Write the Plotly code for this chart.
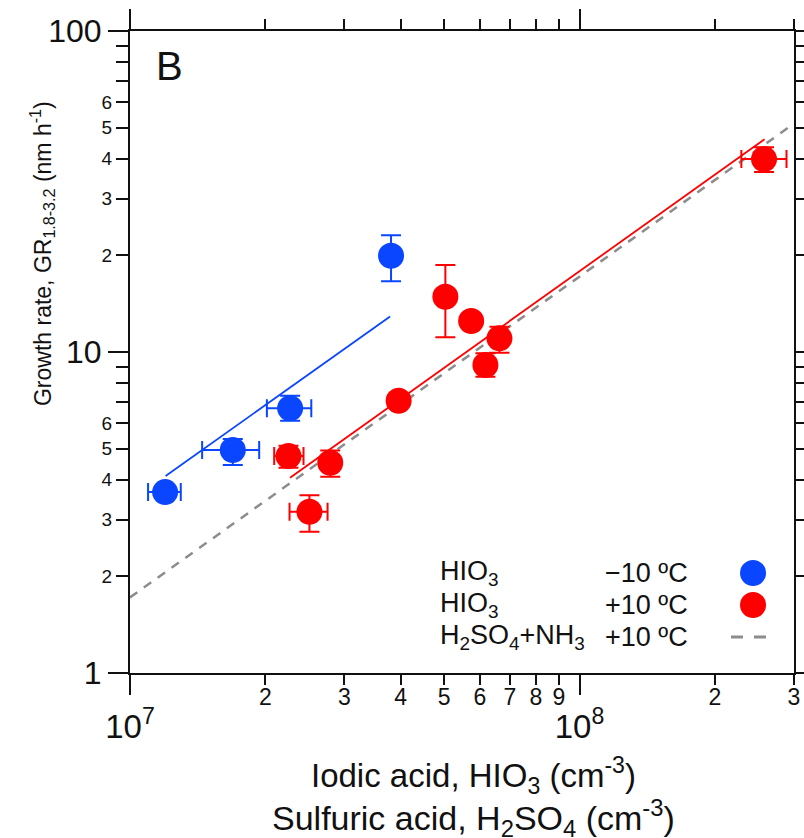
import numpy as np
import plotly.graph_objects as go

# ---------------- data ----------------
blue_x = [1.197e7, 1.693e7, 2.271e7, 3.808e7]
blue_y = [3.66, 4.95, 6.68, 19.95]
blue_x_plus = [0.10e7, 0.245e7, 0.26e7, 0.0]
blue_x_minus = [0.10e7, 0.246e7, 0.255e7, 0.0]
blue_y_plus = [0.0, 0.41, 0.63, 3.15]
blue_y_minus = [0.0, 0.50, 0.57, 3.35]

red_x = [2.252e7, 2.789e7, 2.507e7, 3.959e7, 5.03e7, 5.74e7, 6.635e7, 6.175e7, 2.573e8]
red_y = [4.74, 4.52, 3.18, 7.05, 14.87, 12.49, 11.03, 9.11, 39.9]
red_x_plus = [0.18e7, 0.12e7, 0.244e7, 0.0, 0.0, 0.0, 0.0, 0.0, 0.314e8]
red_x_minus = [0.159e7, 0.11e7, 0.243e7, 0.0, 0.0, 0.0, 0.0, 0.0, 0.282e8]
red_y_plus = [0.36, 0.41, 0.40, 0.0, 3.79, 0.0, 0.96, 0.80, 3.5]
red_y_minus = [0.38, 0.43, 0.425, 0.0, 3.76, 0.0, 1.08, 0.73, 3.5]

blue_fit_x = [1.2e7, 3.79e7]
blue_fit_y = [4.11, 12.9]
red_fit_x = [2.27e7, 2.58e8]
red_fit_y = [4.06, 46.0]
h2so4_fit_x = [1.0e7, 3.0e8]
h2so4_fit_y = [1.72, 51.5]

x_minor_vals = [2e7, 3e7, 4e7, 5e7, 6e7, 7e7, 8e7, 9e7, 2e8, 3e8]
x_minor_text = ["2", "3", "4", "5", "6", "7", "8", "9", "2", "3"]
x_major_vals = [1e7, 1e8]
x_major_text = ["10<sup>7</sup>", "10<sup>8</sup>"]
y_minor_vals = [2, 3, 4, 5, 6, 20, 30, 40, 50, 60]
y_minor_text = ["2", "3", "4", "5", "6", "2", "3", "4", "5", "6"]
y_unlabeled_vals = [7, 8, 9, 70, 80, 90]
y_major_vals = [1, 10, 100]
y_major_text = ["1", "10", "100"]

legend_names = ["HIO<sub>3</sub>", "HIO<sub>3</sub>", "H<sub>2</sub>SO<sub>4</sub>+NH<sub>3</sub>"]
legend_temps = ["\u221210 \u00baC", "+10 \u00baC", "+10 \u00baC"]

BLUE = "#0a46ff"
RED = "#ff0000"
GRAY = "#8c8c8c"
FONT = "Liberation Sans, Arial, sans-serif"
NARROW = "Liberation Sans Narrow, Arial Narrow, Liberation Sans, sans-serif"

fig = go.Figure()

fig.add_trace(go.Scatter(x=h2so4_fit_x, y=h2so4_fit_y, mode="lines",
                         line=dict(color=GRAY, width=2.5, dash="9px,8px"),
                         showlegend=False, hoverinfo="skip"))
fig.add_trace(go.Scatter(x=blue_fit_x, y=blue_fit_y, mode="lines",
                         line=dict(color=BLUE, width=1.8), showlegend=False, hoverinfo="skip"))
fig.add_trace(go.Scatter(x=red_fit_x, y=red_fit_y, mode="lines",
                         line=dict(color=RED, width=1.8), showlegend=False, hoverinfo="skip"))

fig.add_trace(go.Scatter(
    x=blue_x, y=blue_y, mode="markers",
    marker=dict(color=BLUE, size=26),
    error_x=dict(type="data", array=blue_x_plus, arrayminus=blue_x_minus,
                 color=BLUE, thickness=2, width=9),
    error_y=dict(type="data", array=blue_y_plus, arrayminus=blue_y_minus,
                 color=BLUE, thickness=2, width=10),
    showlegend=False))
fig.add_trace(go.Scatter(
    x=red_x, y=red_y, mode="markers",
    marker=dict(color=RED, size=26),
    error_x=dict(type="data", array=red_x_plus, arrayminus=red_x_minus,
                 color=RED, thickness=2, width=9),
    error_y=dict(type="data", array=red_y_plus, arrayminus=red_y_minus,
                 color=RED, thickness=2, width=10),
    showlegend=False))

# placeholder trace so the overlay axes (long major ticks) are drawn
fig.add_trace(go.Scatter(x=[], y=[], xaxis="x2", yaxis="y2", mode="markers",
                         showlegend=False, hoverinfo="skip"))

xr = [7, np.log10(3e8)]
common_ax = dict(showgrid=False, zeroline=False, ticks="outside", tickwidth=2,
                 tickcolor="#111", linecolor="#111", linewidth=2, showline=True,
                 mirror="ticks", automargin=False)

fig.update_layout(
    width=804, height=838, autosize=False,
    margin=dict(l=130, r=10, t=31, b=165),
    paper_bgcolor="white", plot_bgcolor="white",
    font=dict(family=FONT, color="#111"),
    xaxis=dict(type="log", range=xr, tickmode="array", tickvals=x_minor_vals,
               ticktext=x_minor_text, ticklen=10, tickfont=dict(size=23),
               ticklabelstandoff=-8, **common_ax),
    xaxis2=dict(type="log", range=xr, overlaying="x", side="bottom", tickmode="array",
                tickvals=x_major_vals, ticktext=x_major_text, ticklen=20,
                tickfont=dict(size=33), ticklabelstandoff=3, **common_ax),
    yaxis=dict(type="log", range=[0, 2], tickmode="array", tickvals=y_minor_vals,
               ticktext=y_minor_text, ticklen=12, tickfont=dict(size=19),
               minor=dict(tickmode="array", tickvals=y_unlabeled_vals, ticklen=12,
                          tickwidth=2, tickcolor="#111", ticks="outside", showgrid=False),
               **common_ax),
    yaxis2=dict(type="log", range=[0, 2], overlaying="y", side="left", tickmode="array",
                tickvals=y_major_vals, ticktext=y_major_text, ticklen=20,
                tickfont=dict(size=32), **common_ax),
)

ann = []
ann.append(dict(text="B", x=0.06, y=0.9455, xref="paper", yref="paper",
                showarrow=False, font=dict(size=40), xanchor="center", yanchor="middle"))
ann.append(dict(text="Growth rate, GR<sub>1.8-3.2</sub> (nm h<sup>-1</sup>)",
                x=-0.1325, y=0.6526, xref="paper", yref="paper", textangle=-90,
                showarrow=False, font=dict(size=23, family=NARROW),
                xanchor="center", yanchor="middle"))
ann.append(dict(text="Iodic acid, HIO<sub>3</sub> (cm<sup>-3</sup>)",
                x=0.518, y=-0.159, xref="paper", yref="paper",
                showarrow=False, font=dict(size=33), xanchor="center", yanchor="middle"))
ann.append(dict(text="Sulfuric acid, H<sub>2</sub>SO<sub>4</sub> (cm<sup>-3</sup>)",
                x=0.518, y=-0.226, xref="paper", yref="paper",
                showarrow=False, font=dict(size=34), xanchor="center", yanchor="middle"))

row_y = [0.1558, 0.1059, 0.0561]
for name, temp, ry in zip(legend_names, legend_temps, row_y):
    ann.append(dict(text=name, x=0.4639, y=ry, xref="paper", yref="paper",
                    showarrow=False, font=dict(size=27), xanchor="left", yanchor="middle"))
    ann.append(dict(text=temp, x=0.7123, y=ry, xref="paper", yref="paper",
                    showarrow=False, font=dict(size=27), xanchor="left", yanchor="middle"))
fig.update_layout(annotations=ann)

shapes = []
for ry, col in zip(row_y[:2], [BLUE, RED]):
    shapes.append(dict(type="circle", xref="paper", yref="paper", xsizemode="pixel",
                       ysizemode="pixel", xanchor=0.9383, yanchor=ry,
                       x0=-13, x1=13, y0=-13, y1=13, fillcolor=col, line=dict(width=0)))
shapes.append(dict(type="line", xref="paper", yref="paper", x0=0.9051, x1=0.9578,
                   y0=row_y[2], y1=row_y[2], line=dict(color=GRAY, width=3, dash="12px,11px")))
fig.update_layout(shapes=shapes)

fig.write_html("out.html", config={"responsive": False, "displayModeBar": False},
               post_script="document.body.style.margin='0';document.body.style.overflow='hidden';")
